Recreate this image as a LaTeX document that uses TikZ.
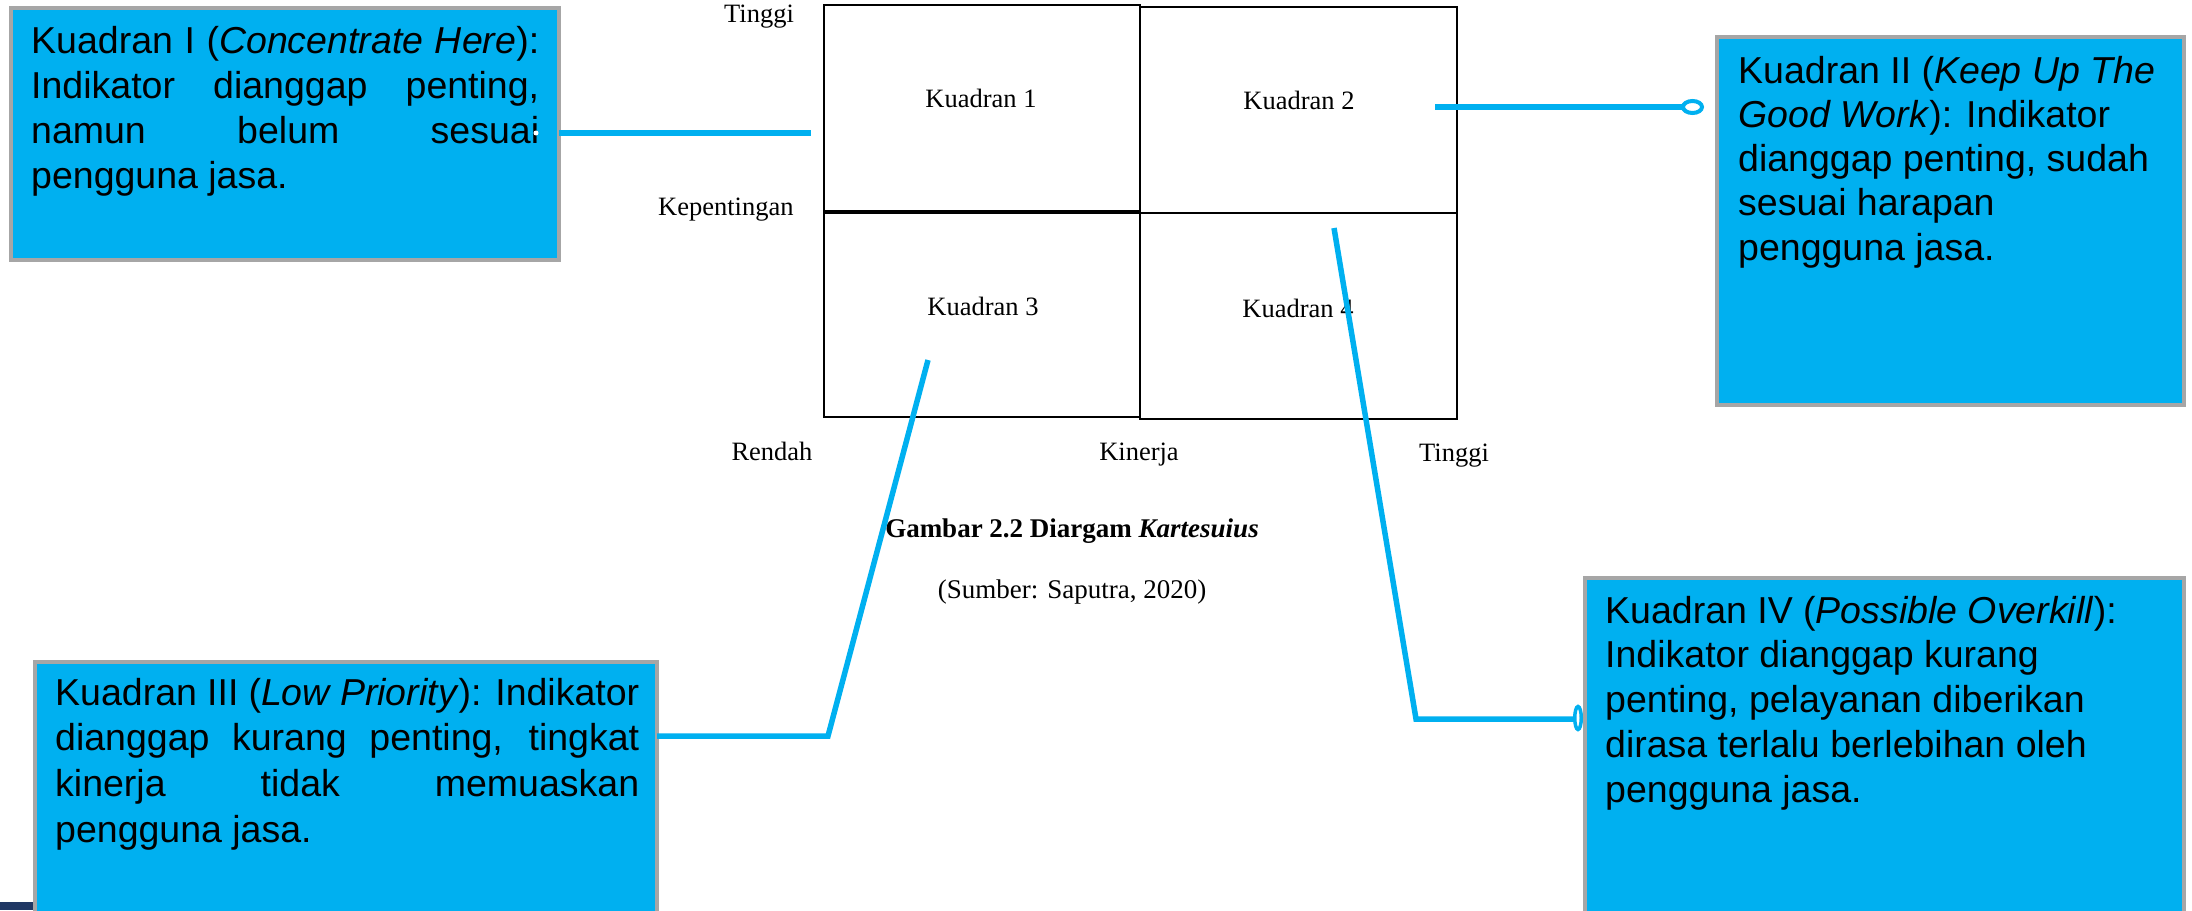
\documentclass[tikz,border=0pt]{standalone}
\usepackage{fontspec}
\setmainfont{Liberation Serif}
\newfontfamily\arialf{Liberation Sans}
\usetikzlibrary{shapes.geometric}
\definecolor{boxcyan}{HTML}{00B0F0}
\definecolor{boxgray}{HTML}{A6A6A6}
\definecolor{navystrip}{HTML}{203864}
\newcommand\boxfont[1]{\arialf\fontsize{37.5}{#1}\selectfont}
\newcommand\jline[1]{\makebox[\linewidth][s]{#1}}
\tikzset{
  infobox/.style={rectangle, draw=boxgray, line width=4pt, fill=boxcyan, inner sep=0pt, outer sep=0pt},
  infotext/.style={anchor=base west, inner sep=0pt},
  conn/.style={draw=boxcyan, line width=5.5pt},
  endoval/.style={ellipse, draw=boxcyan, line width=4pt, fill=white, inner sep=0pt, outer sep=0pt},
  axlabel/.style={inner sep=0pt, anchor=base, font=\fontsize{26.5}{30}\selectfont},
  captext/.style={inner sep=0pt, anchor=base, font=\fontsize{27}{30}\selectfont\bfseries},
  srctext/.style={inner sep=0pt, anchor=base, font=\fontsize{27}{30}\selectfont},
  quad/.style={draw=black, line width=2.5pt}
}
\begin{document}
\begin{tikzpicture}[x=1pt,y=-1pt]
\useasboundingbox (0,0) rectangle (2192,910);
\fill[white] (0,0) rectangle (2192,910);

% quadrant grid
\draw[quad] (824,5) rectangle (1140,211);
\draw[quad] (824,213) rectangle (1140,417);
\draw[quad] (1140,7) rectangle (1457,213);
\draw[quad] (1140,213) rectangle (1457,419);

% axis and quadrant labels
\node[axlabel, anchor=base west] (tinggiY) at (724,22) {Tinggi};
\node[axlabel, anchor=base west] (kep) at (658,215) {Kepentingan};
\node[axlabel] (k1) at (981,107) {Kuadran 1};
\node[axlabel] (k2) at (1299,109) {Kuadran 2};
\node[axlabel] (k3) at (983,315) {Kuadran 3};
\node[axlabel] (k4) at (1298,317) {Kuadran 4};
\node[axlabel] (rendah) at (772,460) {Rendah};
\node[axlabel] (kinerja) at (1139,460) {Kinerja};
\node[axlabel] (tinggiX) at (1454,461) {Tinggi};
\node[captext] (cap) at (1072,537) {Gambar 2.2 Diargam \textit{Kartesuius}};
\node[srctext] (src) at (1072,598) {(Sumber: Saputra, 2020)};

% navy strip bottom left
\fill[navystrip] (0,902) rectangle (33,910);

% info boxes
\node[infobox, minimum width=548pt, minimum height=252pt] (b1) at (285,134) {};
\node[infobox, minimum width=467pt, minimum height=368pt] (b2) at (1950.5,221) {};
\node[infobox, minimum width=622pt, minimum height=300pt] (b3) at (346,812) {};
\node[infobox, minimum width=599pt, minimum height=380pt] (b4) at (1884.5,768) {};

% box texts
\node[infotext] (t1) at (31,53) {\parbox[t]{508pt}{\boxfont{45}%
\jline{Kuadran I (\textit{Concentrate Here}):}\\
\jline{Indikator dianggap penting,}\\
\jline{namun belum sesuai}\\
pengguna jasa.}};

\node[infotext] (t2) at (1738,83) {\parbox[t]{440pt}{\boxfont{44.3}%
Kuadran II (\textit{Keep Up The}\\
\textit{Good Work}): Indikator\\
dianggap penting, sudah\\
sesuai harapan\\
pengguna jasa.}};

\node[infotext] (t3) at (55,705) {\parbox[t]{584pt}{\boxfont{45.7}%
\jline{Kuadran III (\textit{Low Priority}): Indikator}\\
\jline{dianggap kurang penting, tingkat}\\
\jline{kinerja tidak memuaskan}\\
pengguna jasa.}};

\node[infotext] (t4) at (1605,623) {\parbox[t]{560pt}{\boxfont{44.75}%
Kuadran IV (\textit{Possible Overkill}):\\
Indikator dianggap kurang\\
penting, pelayanan diberikan\\
dirasa terlalu berlebihan oleh\\
pengguna jasa.}};

% connector 1
\coordinate (c1e) at (811,133);
\draw[conn] (b1.east |- c1e) -- (c1e);
\fill[white] (536,133) circle (2.5pt);

% connector 2
\coordinate (c2s) at (1435,107);
\node[endoval, minimum width=19pt, minimum height=12pt] (e2) at (1692.5,107) {};
\draw[conn] (c2s) -- (e2.west);

% connector 3
\coordinate (c3s) at (928,360);
\coordinate (c3b) at (828,736);
\draw[conn] (c3s) -- (c3b) -- (b3.east |- c3b);

% connector 4
\coordinate (c4s) at (1334,228);
\coordinate (c4b) at (1416,719);
\node[endoval, line width=3.5pt, minimum width=6.5pt, minimum height=23pt] (e4) at (1578,718) {};
\draw[conn] (c4s) -- (c4b) -- (c4b -| e4.west);
\end{tikzpicture}
\end{document}
